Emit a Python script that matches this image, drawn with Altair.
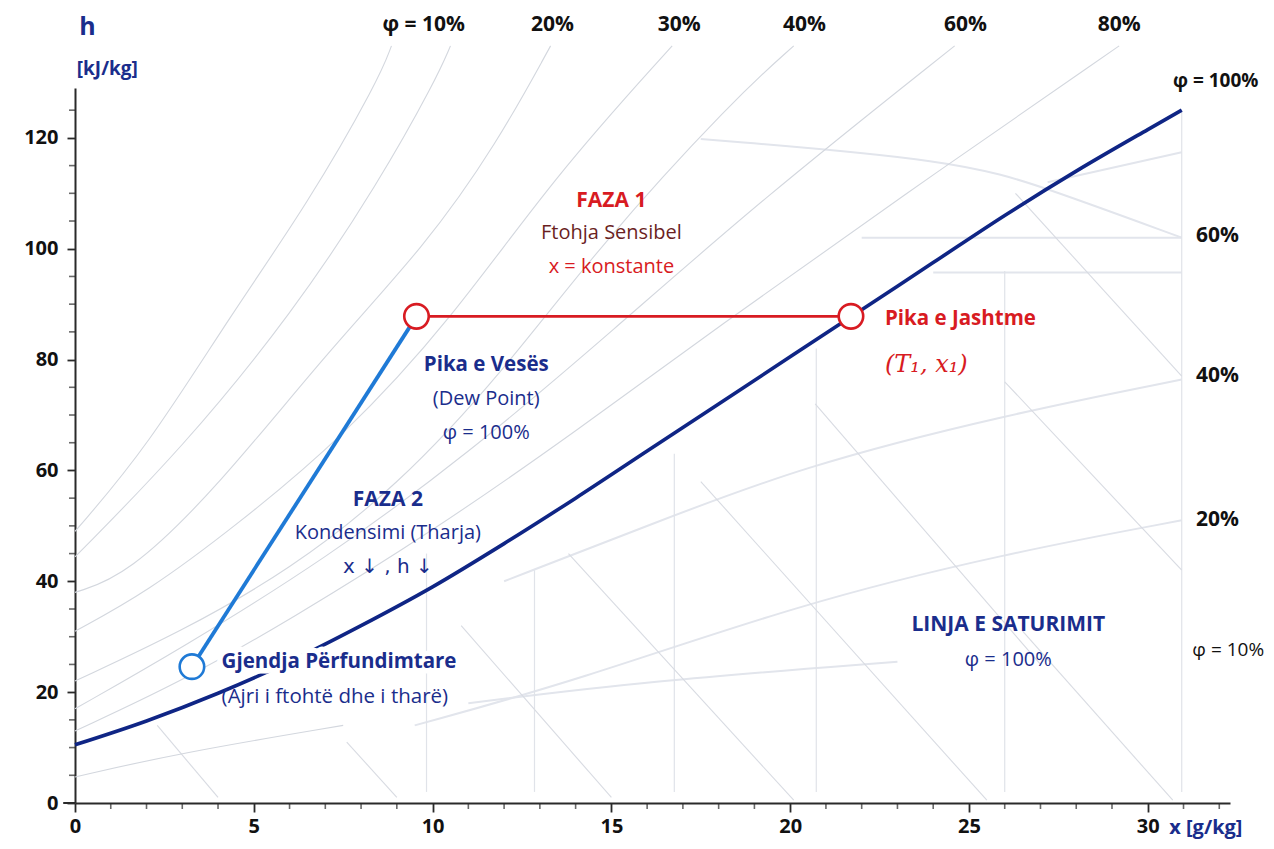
import altair as alt
import pandas as pd

# ---------------- data ----------------
X_MAX = 32.3
H_MAX = 129.0
X_STUB = -0.33

X_TICKS = [0, 5, 10, 15, 20, 25, 30]
H_TICKS = [0, 20, 40, 60, 80, 100, 120]
X_MINOR = [1, 2, 3, 4, 6, 7, 8, 9, 11, 12, 13, 14, 16, 17, 18, 19, 21, 22, 23, 24, 26, 27, 28, 29, 31, 32]
H_MINOR = [5, 10, 15, 25, 30, 35, 45, 50, 55, 65, 70, 75, 85, 90, 95, 105, 110, 115, 125]

# saturation line (phi = 100 %)
SAT_X = [0, 2, 4, 6, 8, 10, 12, 14, 16, 18, 20, 22, 24, 26, 28, 30, 30.95]
SAT_H = [10.5, 14.8, 19.8, 25.5, 32, 39, 46.8, 55, 63.5, 72, 80.5, 89, 97.5, 106, 114, 121.5, 125]

# process states
OUTER = (21.7, 87.8)     # Pika e Jashtme
DEW = (9.55, 87.8)       # Pika e Vesës
FINAL = (3.27, 24.6)     # Gjendja Përfundimtare

# faint background lines (x, h)
PHI_LINES = [
    [(0, 49), (2, 64), (4.4, 88.5), (6.5, 108), (8.5, 130.6), (8.85, 136.6)],
    [(0, 44.4), (3, 64), (6.1, 88.5), (8.5, 112), (10.1, 130.6), (10.5, 136.6)],
    [(0, 38), (1.45, 41), (4, 57), (7.04, 81.3), (9.8, 100.5), (11.8, 119), (13.3, 136.6)],
    [(0, 31), (2, 38), (4.5, 50), (7.5, 66), (10.5, 87), (13.4, 113), (16.7, 136.6)],
    [(0, 22), (3, 31), (6, 42), (9, 57), (12, 78), (14.66, 100.5), (18.43, 127), (20.1, 136.6)],
    [(0, 17), (3, 28), (7, 44), (11, 63), (15, 85), (19.2, 108.9), (24.6, 136.6)],
    [(0, 13), (3, 22), (6, 33), (10, 49), (14, 67), (18, 86), (23, 108.9), (29.2, 136.6)],
    [(0, 4.7), (2.9, 9), (7.5, 14)],
]
DIAG_LINES = [
    [(2.3, 14), (4.0, 1)],
    [(7.6, 11), (9.0, 1)],
    [(10.8, 32), (15.0, 1)],
    [(13.8, 45), (20.1, 0.5)],
    [(17.5, 58), (25.5, 0.5)],
    [(20.7, 72), (27.0, 25)],
    [(26.0, 76), (30.95, 42)],
    [(26.3, 110), (30.95, 77)],
    [(26.5, 31), (30.7, 0.5)],
]
SOFT_LINES = [
    [(9.5, 14), (14, 22), (20.3, 36), (26, 45), (30.95, 51)],
    [(11, 18), (16, 22), (23, 25.5)],
    [(12, 40), (16, 50), (20.3, 60.7), (26, 70), (30.95, 76.4)],
    [(22, 102), (30.95, 102)],
    [(24, 95.7), (30.95, 95.7)],
    [(17.5, 119.8), (24.7, 116), (27.15, 111), (30.95, 102)],
    [(27.2, 112), (30.95, 117.4)],
]
VERT_X = [9.83, 12.85, 16.76, 20.73, 26.0, 30.95]
VERT_TOP = [45, 42, 63, 82, 96, 125]

# text annotations
TOP_LABELS = ["φ = 10%", "20%", "30%", "40%", "60%", "80%"]
TOP_X = [9.75, 13.35, 16.9, 20.4, 24.9, 29.2]
RIGHT_LABELS = ["60%", "40%", "20%"]
RIGHT_H = [102.3, 77.1, 51.1]

# ---------------- helpers ----------------
xs = alt.Scale(domain=[0, X_MAX], nice=False, zero=False)
ys = alt.Scale(domain=[0, H_MAX], nice=False, zero=False)
FONT = "Open Sans"
NAVY = "#1a2d8c"
RED = "#d81b22"
BLUE = "#1f7ad6"
GRID = "#d3d7de"
AXC = "#2a2a2a"

axis_base = dict(
    grid=False, title=None, domainColor=AXC, domainWidth=2, labelFlush=False,
    tickColor=AXC, tickWidth=1.8, labelFont=FONT, labelFontSize=20,
    labelFontWeight="bold", labelColor="#111111",
)
XAX = alt.Axis(values=X_TICKS, tickSize=9, labelPadding=4, **axis_base)
YAX = alt.Axis(values=H_TICKS, tickSize=8, labelPadding=9, **axis_base)


def X(field):
    return alt.X(field, type="quantitative", scale=xs, axis=XAX)


def Y(field):
    return alt.Y(field, type="quantitative", scale=ys, axis=YAX)


def lines_df(lines, prefix):
    rows = []
    for i, ln in enumerate(lines):
        for j, (x, h) in enumerate(ln):
            rows.append({"id": f"{prefix}{i}", "o": j, "x": x, "h": h})
    return pd.DataFrame(rows)


def line_layer(df, color, width, interp="monotone", opacity=1.0):
    return alt.Chart(df).mark_line(
        color=color, strokeWidth=width, interpolate=interp, opacity=opacity
    ).encode(x=X("x"), y=Y("h"), detail="id:N", order="o:Q")


def text_layer(texts, xvals, hvals, color, size, weight="normal", align="center",
               font=FONT, style="normal", halo=False):
    df = pd.DataFrame({"t": texts, "x": xvals, "h": hvals})
    extra = {}
    if halo:
        extra = dict(stroke="white", strokeWidth=11, strokeJoin="round")
    return alt.Chart(df).mark_text(
        color=color, fontSize=size, fontWeight=weight, align=align,
        baseline="middle", font=font, fontStyle=style, **extra
    ).encode(x=X("x"), y=Y("h"), text="t:N")


# ---------------- background ----------------
phi = line_layer(lines_df(PHI_LINES, "p"), GRID, 1.1, "basis")
diag = line_layer(lines_df(DIAG_LINES, "d"), "#d8dbe2", 1.1, "linear")
soft = line_layer(lines_df(SOFT_LINES, "s"), "#e2e5ec", 2.0, "basis")
vert_df = pd.DataFrame({"x": VERT_X, "h": [2] * len(VERT_X), "h2": VERT_TOP})
vert = alt.Chart(vert_df).mark_rule(color="#e0e3e9", strokeWidth=1.2).encode(
    x=X("x"), y=Y("h"), y2="h2:Q"
)

# ---------------- minor ticks and axis stub ----------------
xminor = alt.Chart(pd.DataFrame({"v": X_MINOR})).mark_tick(
    orient="vertical", size=6, thickness=1.6, color=AXC, yOffset=3
).encode(x=X("v"), y=alt.YDatum(datum=0, scale=ys, axis=YAX))
hminor = alt.Chart(pd.DataFrame({"v": H_MINOR})).mark_tick(
    orient="horizontal", size=6, thickness=1.6, color=AXC, xOffset=-3
).encode(y=Y("v"), x=alt.XDatum(datum=0, scale=xs, axis=XAX))
stub = alt.Chart(pd.DataFrame({"x": [X_STUB], "x2": [0], "h": [0]})).mark_rule(
    color=AXC, strokeWidth=2
).encode(x=X("x"), x2="x2:Q", y=Y("h"))

# ---------------- main curves ----------------
sat_df = pd.DataFrame({"x": SAT_X, "h": SAT_H, "id": "sat", "o": range(len(SAT_X))})
sat = line_layer(sat_df, "#0f2585", 3.6, "monotone")

red_df = pd.DataFrame({"x": [DEW[0], OUTER[0]], "h": [DEW[1], OUTER[1]], "id": "r", "o": [0, 1]})
red = line_layer(red_df, RED, 2.6, "linear")
blue_df = pd.DataFrame({"x": [DEW[0], FINAL[0]], "h": [DEW[1], FINAL[1]], "id": "b", "o": [0, 1]})
blue = line_layer(blue_df, BLUE, 3.8, "linear")

pts_df = pd.DataFrame({
    "x": [OUTER[0], DEW[0], FINAL[0]],
    "h": [OUTER[1], DEW[1], FINAL[1]],
    "c": ["o", "d", "f"],
})
pts = alt.Chart(pts_df).mark_point(
    shape="circle", size=600, filled=False, fill="white", fillOpacity=1, strokeWidth=2.6
).encode(
    x=X("x"), y=Y("h"),
    stroke=alt.Stroke("c:N", scale=alt.Scale(domain=["o", "d", "f"], range=[RED, RED, BLUE]), legend=None),
)

# ---------------- texts ----------------
GJ = ["Gjendja Përfundimtare"]
texts = [
    text_layer(["h"], [0.12], [140.0], NAVY, 25, "bold", "left"),
    text_layer(["[kJ/kg]"], [0.05], [132.5], NAVY, 19, "bold", "left"),
    text_layer(TOP_LABELS, TOP_X, [140.4] * 6, "#111111", 21, "bold"),
    text_layer(["φ = 100%"], [31.9], [130.3], "#111111", 19, "bold"),
    text_layer(RIGHT_LABELS, [31.95] * 3, RIGHT_H, "#111111", 21, "bold"),
    text_layer(["φ = 10%"], [32.25], [27.6], "#111111", 19, "normal"),
    text_layer(["FAZA 1"], [15.0], [108.6], RED, 21, "bold"),
    text_layer(["Ftohja Sensibel"], [15.0], [102.8], "#6b1f1f", 20),
    text_layer(["x = konstante"], [15.0], [96.7], RED, 20),
    text_layer(["Pika e Vesës"], [11.5], [79.1], NAVY, 20.5, "bold"),
    text_layer(["(Dew Point)", "φ = 100%"], [11.5, 11.5], [72.8, 66.7], NAVY, 20),
    text_layer(["FAZA 2"], [8.75], [54.7], NAVY, 21, "bold"),
    text_layer(["Kondensimi (Tharja)"], [8.75], [48.8], NAVY, 20),
    text_layer(["x ↓ , h ↓"], [8.75], [42.6], NAVY, 20, "normal", "center", "DejaVu Sans"),
    text_layer(GJ, [4.1], [25.5], "white", 20.5, "bold", "left", halo=True),
    text_layer(GJ, [4.1], [25.5], NAVY, 20.5, "bold", "left"),
    text_layer(["(Ajri i ftohtë dhe i tharë)"], [4.1], [19.2], NAVY, 20.5, "normal", "left"),
    text_layer(["Pika e Jashtme"], [22.65], [87.3], RED, 20.5, "bold", "left"),
    text_layer(["(T₁, x₁)"], [22.65], [79.0], RED, 24, "normal", "left", "DejaVu Serif", "italic"),
    text_layer(["LINJA E SATURIMIT"], [26.1], [32.2], NAVY, 21, "bold"),
    text_layer(["φ = 100%"], [26.1], [25.8], NAVY, 20),
    text_layer(["x [g/kg]"], [30.6], [-4.6], NAVY, 20, "bold", "left"),
]

chart = alt.layer(
    soft, vert, diag, phi, stub, xminor, hminor, sat, red, blue, pts, *texts
).properties(
    width=1155, height=715,
    autosize=alt.AutoSizeParams(type="none"),
    padding={"left": 67, "top": 80, "right": 36, "bottom": 38},
).configure_view(stroke=None)

chart.save("out.html", embed_options={"renderer": "svg", "actions": False})
